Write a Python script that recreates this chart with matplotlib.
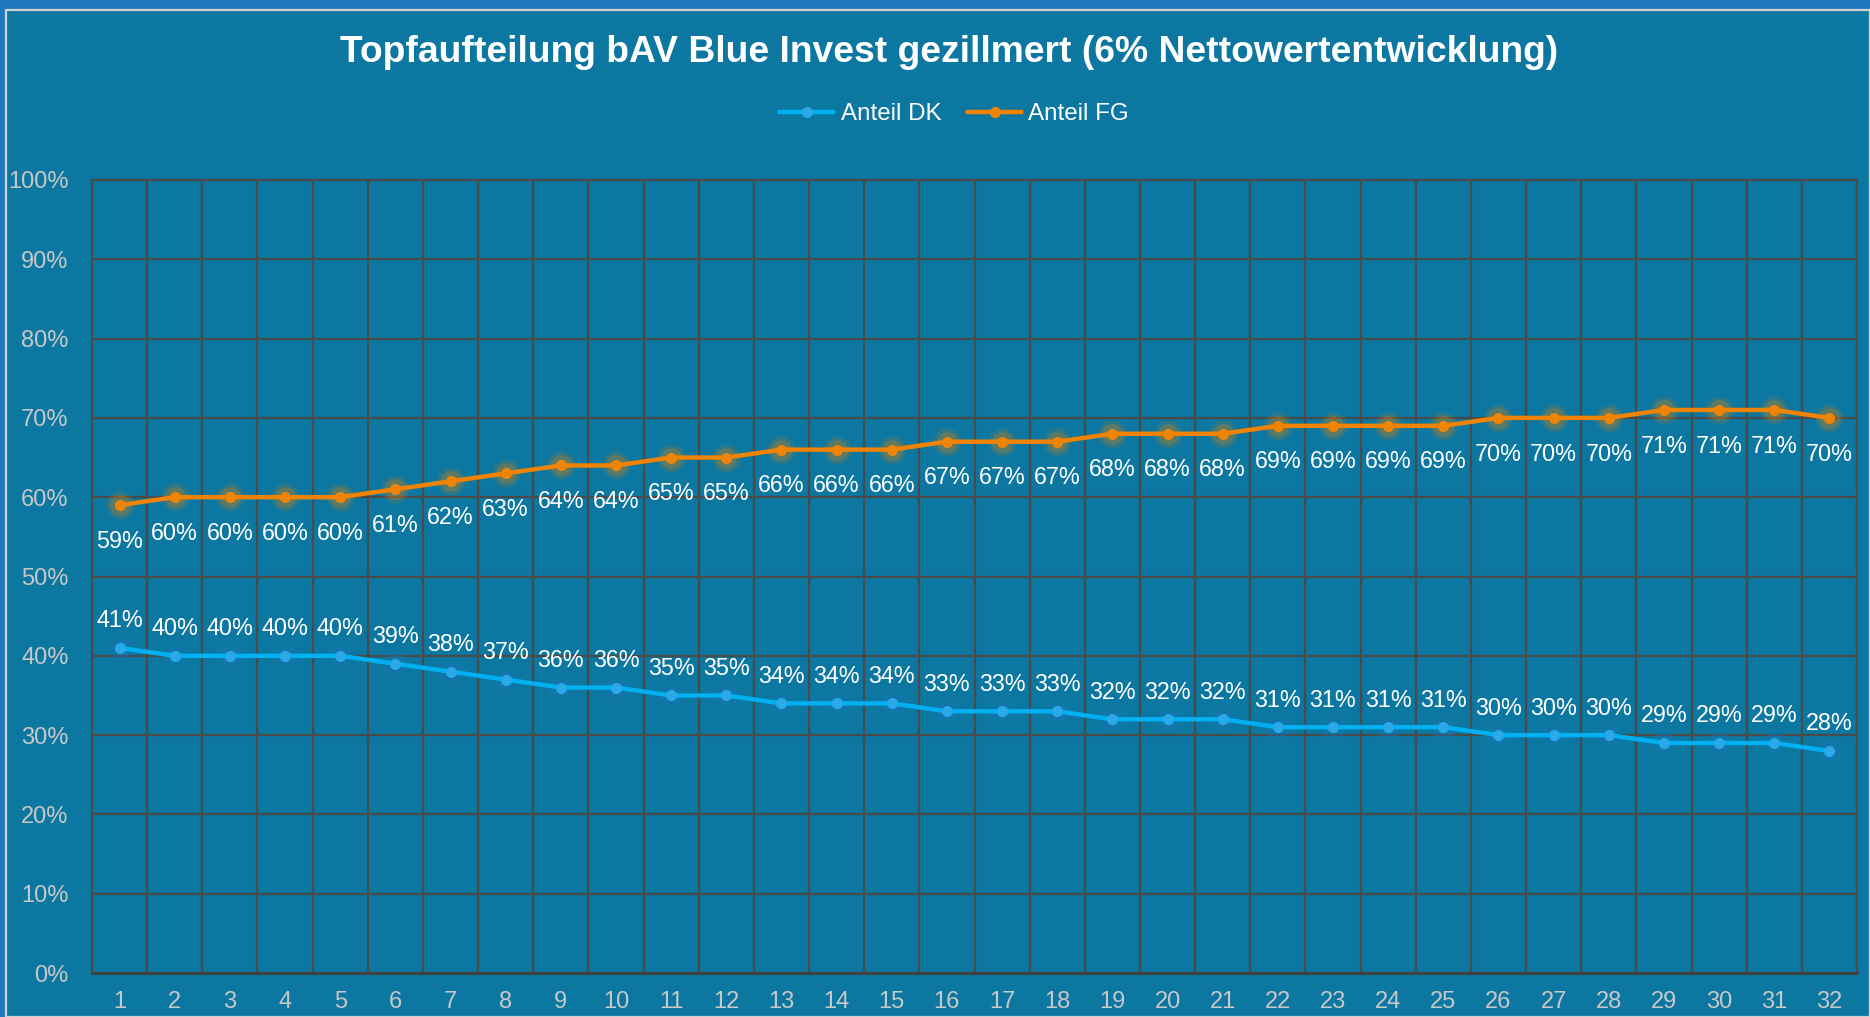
import matplotlib
matplotlib.use("Agg")
import matplotlib.pyplot as plt
from matplotlib.patches import Rectangle
from matplotlib.lines import Line2D

plt.rcParams['font.family'] = ['Liberation Sans', 'DejaVu Sans']

categories = [str(i) for i in range(1, 33)]
anteil_dk = [41, 40, 40, 40, 40, 39, 38, 37, 36, 36, 35, 35, 34, 34, 34, 33,
             33, 33, 32, 32, 32, 31, 31, 31, 31, 30, 30, 30, 29, 29, 29, 28]
anteil_fg = [59, 60, 60, 60, 60, 61, 62, 63, 64, 64, 65, 65, 66, 66, 66, 67,
             67, 67, 68, 68, 68, 69, 69, 69, 69, 70, 70, 70, 71, 71, 71, 70]
y_ticks = list(range(0, 101, 10))
y_ticklabels = [f"{v}%" for v in y_ticks]
title = "Topfaufteilung bAV Blue Invest gezillmert (6% Nettowertentwicklung)"
series_names = ["Anteil DK", "Anteil FG"]

W, H = 1870, 1017
BG = "#0C77A0"
OUTER = "#1E78BE"
DK_C = "#00B0F0"
FG_C = "#F08300"
GRID = "#4A4A4A"

fig = plt.figure(figsize=(W / 100, H / 100), dpi=100, facecolor=OUTER)
fig.patches.append(Rectangle((6 / W, 0), 1 - 6 / W, 1 - 10 / H, transform=fig.transFigure,
                             facecolor=BG, edgecolor="#D0D0D0", linewidth=1.6, zorder=-10))

ax = fig.add_axes([92 / W, (H - 973) / H, (1857 - 92) / W, (973 - 180) / H])
ax.set_facecolor(BG)
x = list(range(len(categories)))
ax.set_xlim(-0.5, len(categories) - 0.5)
ax.set_ylim(0, 100)

# grid
ax.set_yticks(y_ticks)
ax.set_yticklabels(y_ticklabels)
ax.set_xticks(x)
ax.set_xticklabels(categories)
ax.set_xticks([i - 0.5 for i in range(len(categories) + 1)], minor=True)
ax.grid(True, axis='y', which='major', color=GRID, linewidth=1.6)
ax.grid(True, axis='x', which='minor', color=GRID, linewidth=1.6)
ax.grid(False, axis='x', which='major')
ax.set_axisbelow(True)
for s in ax.spines.values():
    s.set_color(GRID)
    s.set_linewidth(1.6)
ax.spines['bottom'].set_color("#404040")
ax.spines['bottom'].set_linewidth(2)
ax.tick_params(axis='both', which='both', length=0, colors="#C8C8C8", labelsize=17)
ax.tick_params(axis='x', pad=13)
ax.tick_params(axis='y', pad=17)

# glow
for ms, a in [(20, 0.15), (15, 0.25)]:
    ax.plot(x, anteil_dk, 'o', color="#1A7AC0", markersize=ms, alpha=a, zorder=3, markeredgewidth=0)
    ax.plot(x, anteil_fg, 'o', color=FG_C, markersize=ms, alpha=a, zorder=3, markeredgewidth=0)
ax.plot(x, anteil_dk, '-', color=DK_C, linewidth=3.2, zorder=4, solid_capstyle='round')
ax.plot(x, anteil_fg, '-', color=FG_C, linewidth=3.2, zorder=4, solid_capstyle='round')
ax.plot(x, anteil_dk, 'o', color="#2AA8E8", markersize=8, zorder=5, markeredgewidth=0)
ax.plot(x, anteil_fg, 'o', color="#EE8508", markersize=8, zorder=5, markeredgewidth=0)

for xi, v in zip(x, anteil_dk):
    ax.annotate(f"{v}%", (xi, v), xytext=(0, 19.5), textcoords='offset points',
                ha='center', va='center', color='white', fontsize=16.8, zorder=6)
for xi, v in zip(x, anteil_fg):
    ax.annotate(f"{v}%", (xi, v), xytext=(0, -26), textcoords='offset points',
                ha='center', va='center', color='white', fontsize=16.8, zorder=6)

fig.text(0.5077, 1 - 53 / H, title, ha='center', va='center', color='white',
         fontsize=26.8, fontweight='bold')

handles = [Line2D([0], [0], color=DK_C, linewidth=3.2, marker='o', markersize=8,
                  markerfacecolor="#2AA8E8", markeredgewidth=0),
           Line2D([0], [0], color=FG_C, linewidth=3.2, marker='o', markersize=8,
                  markerfacecolor="#EE8508", markeredgewidth=0)]
fig.legend(handles, series_names, loc='center', bbox_to_anchor=(0.5105, 1 - 114 / H),
           ncol=2, frameon=False, fontsize=17.4, labelcolor='white',
           handlelength=2.2, handletextpad=0.3, columnspacing=1.1)

fig.savefig("out.png", dpi=100, facecolor=OUTER)
